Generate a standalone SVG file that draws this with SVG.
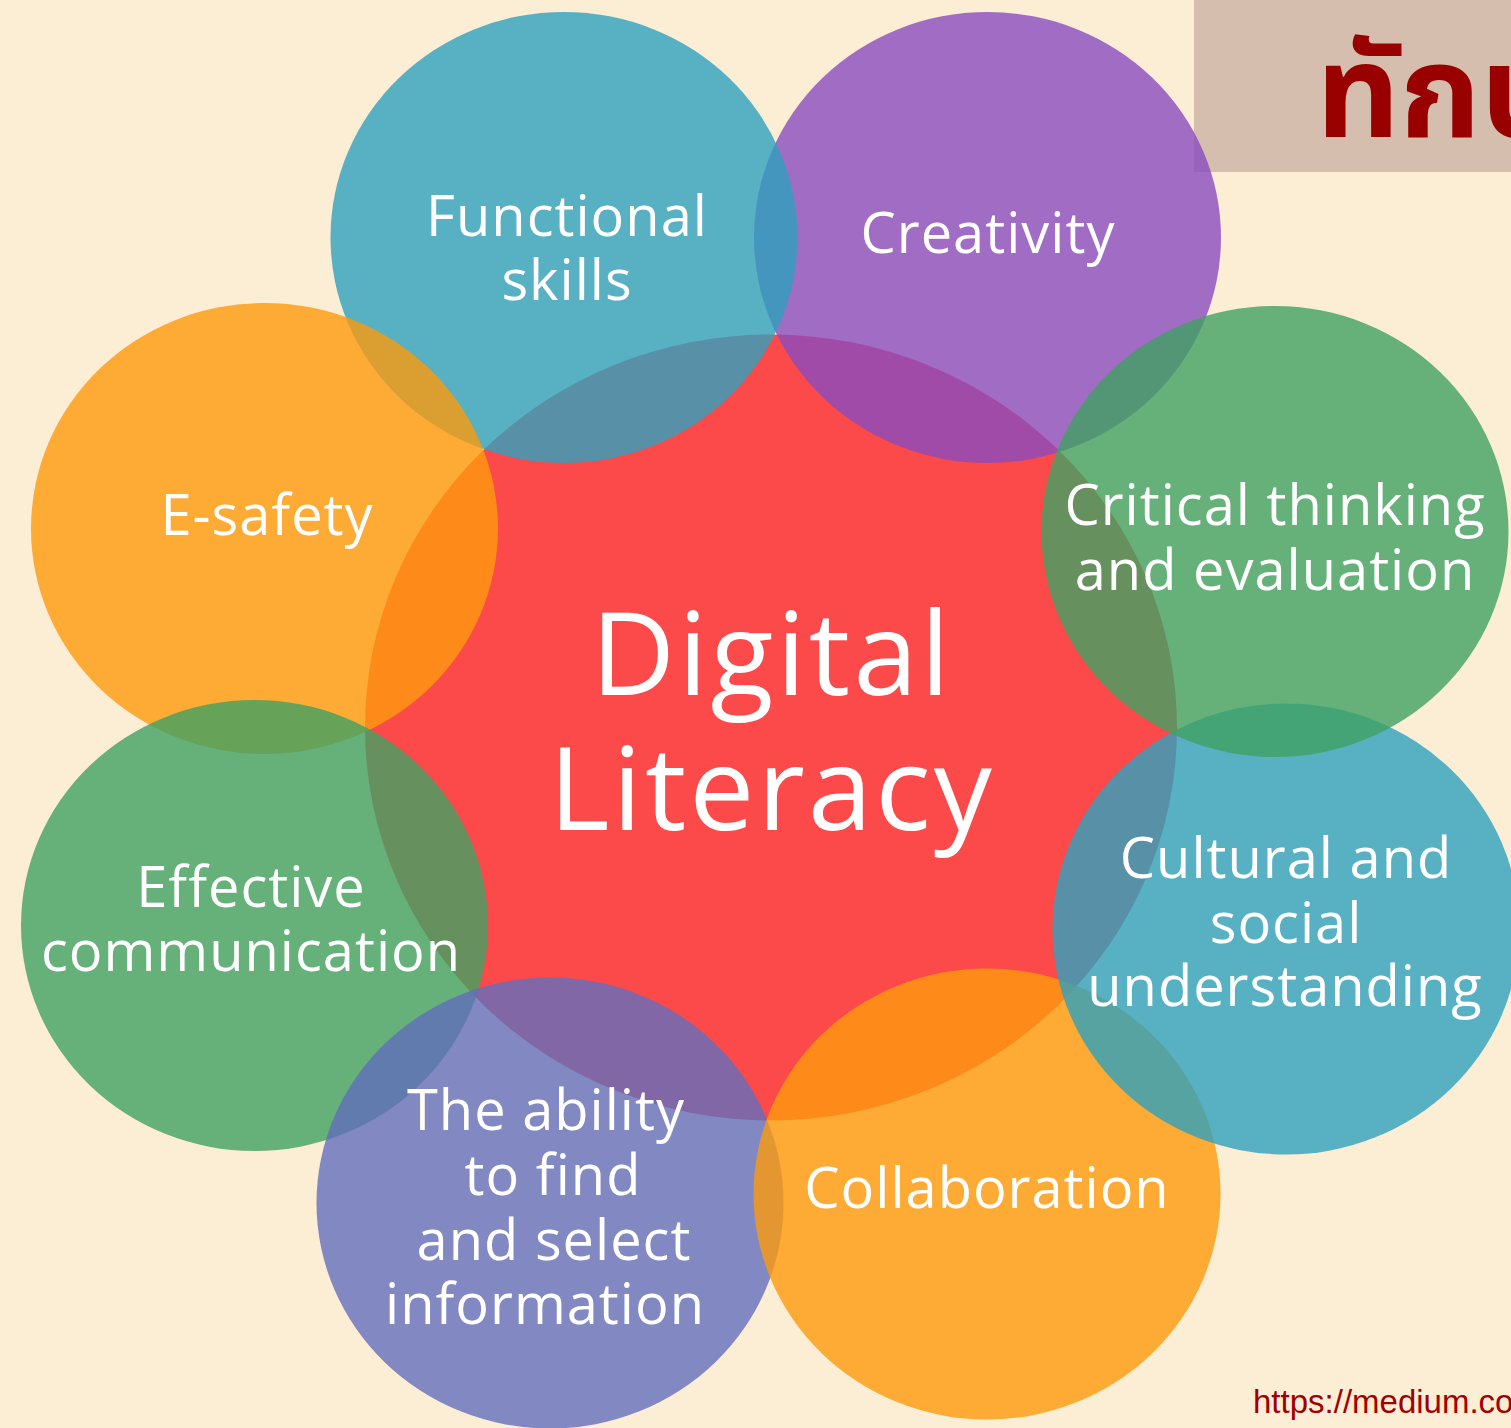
<svg xmlns="http://www.w3.org/2000/svg" width="1511" height="1428" viewBox="0 0 1511 1428">
<style>
.lbl{font-family:"Open Sans","Liberation Sans",sans-serif;font-size:56px;fill:#FFFFFF;text-anchor:middle;letter-spacing:1px}
.big{font-family:"Open Sans","Liberation Sans",sans-serif;font-size:116px;fill:#FFFFFF;text-anchor:middle;letter-spacing:3px}
.c{opacity:0.8}
.teal{fill:#2DA1BE}
.purple{fill:#894BBF}
.green{fill:#40A163}
.orange{fill:#FD9A0D}
.blue{fill:#616EBD}
</style>
<rect width="1511" height="1428" fill="#FCEDD5"/>
<g id="title">
<rect x="1194" y="0" width="317" height="172" fill="#D6BEAE"/>
<text x="1316" y="137" font-family="'Noto Sans Thai','Leelawadee UI',Tahoma,'DejaVu Sans',sans-serif" font-size="130" font-weight="bold" fill="#990000">ทักษะ</text>
</g>
<g id="center">
<ellipse cx="771" cy="727.5" rx="406" ry="393" fill="#FC4A4A"/>
<text class="big" x="772" y="695">Digital</text>
<text class="big" x="772" y="830">Literacy</text>
</g>
<g id="creativity">
<ellipse class="c purple" cx="987.5" cy="237.5" rx="233.5" ry="225.5"/>
<text class="lbl" x="988" y="253">Creativity</text>
</g>
<g id="functional-skills">
<ellipse class="c teal" cx="564" cy="237.5" rx="233.5" ry="225.5"/>
<text class="lbl" x="567" y="236">Functional</text>
<text class="lbl" x="567" y="300">skills</text>
</g>
<g id="e-safety">
<ellipse class="c orange" cx="264.5" cy="528.5" rx="233.5" ry="225.5"/>
<text class="lbl" x="267" y="535">E-safety</text>
</g>
<g id="effective-communication">
<ellipse class="c green" cx="254.5" cy="925.5" rx="233.5" ry="225.5"/>
<text class="lbl" x="251" y="907">Effective</text>
<text class="lbl" x="251" y="971">communication</text>
</g>
<g id="ability">
<ellipse class="c blue" cx="550" cy="1203" rx="233.5" ry="225.5"/>
<text class="lbl" x="546" y="1130">The ability</text>
<text class="lbl" x="553" y="1195">to find</text>
<text class="lbl" x="554" y="1260">and select</text>
<text class="lbl" x="545" y="1324">information</text>
</g>
<g id="collaboration">
<ellipse class="c orange" cx="987" cy="1194" rx="233.5" ry="225.5"/>
<text class="lbl" x="987" y="1208">Collaboration</text>
</g>
<g id="cultural">
<ellipse class="c teal" cx="1286" cy="929" rx="233.5" ry="225.5"/>
<text class="lbl" x="1286" y="878">Cultural and</text>
<text class="lbl" x="1286" y="943">social</text>
<text class="lbl" x="1285" y="1006">understanding</text>
</g>
<g id="critical-thinking">
<ellipse class="c green" cx="1275" cy="531.5" rx="233.5" ry="225.5"/>
<text class="lbl" x="1275" y="525">Critical thinking</text>
<text class="lbl" x="1275" y="590">and evaluation</text>
</g>
<g id="connectors"/>
<text id="source" x="1253" y="1413" font-family="'Liberation Sans',sans-serif" font-size="33" fill="#A00000">https://medium.co</text>
</svg>
